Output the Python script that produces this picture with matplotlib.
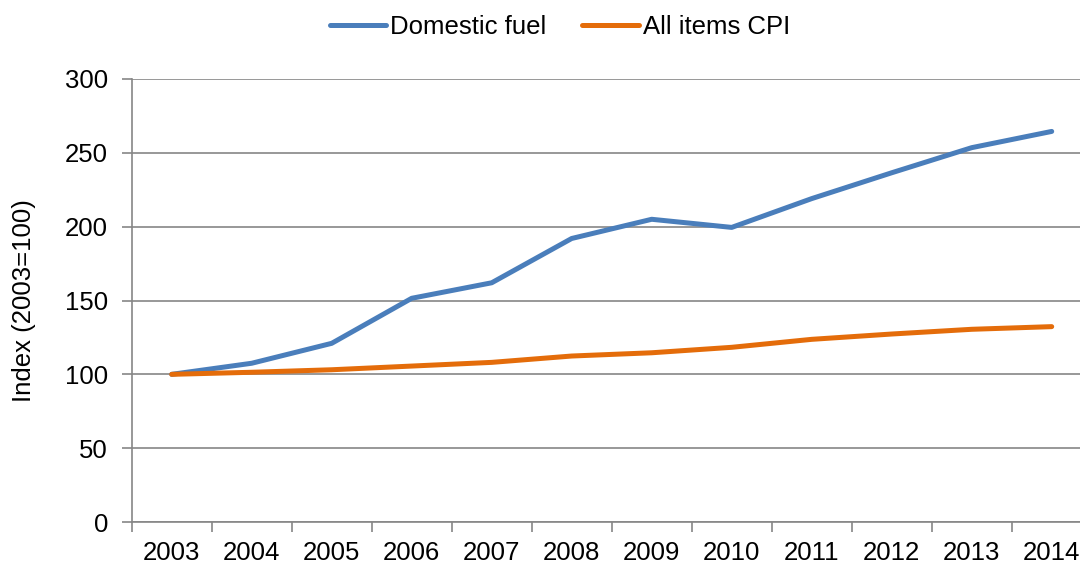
import matplotlib
matplotlib.use("Agg")
import matplotlib.pyplot as plt
import numpy as np

years = ["2003", "2004", "2005", "2006", "2007", "2008", "2009", "2010", "2011", "2012", "2013", "2014"]
domestic_fuel = [100, 107.5, 121, 151.5, 162, 192, 205, 199.5, 219, 236.5, 253.5, 264.5]
all_items_cpi = [100, 101.4, 103.1, 105.6, 108.1, 112.4, 114.6, 118.3, 123.7, 127.3, 130.5, 132.3]
y_ticks = [0, 50, 100, 150, 200, 250, 300]

plt.rcParams['font.family'] = ['Liberation Sans', 'DejaVu Sans']
FS = 18.5
grey = "#868686"

fig = plt.figure(figsize=(10.8, 5.64), dpi=100)
ax = fig.add_axes([131.7 / 1080, 42 / 564, 960 / 1080, 443 / 564])

x = np.arange(len(years))
ax.plot(x, domestic_fuel, color="#4A7EBB", lw=3.6, solid_capstyle="round", solid_joinstyle="round", label="Domestic fuel", zorder=3)
ax.plot(x, all_items_cpi, color="#E46C0A", lw=3.6, solid_capstyle="round", solid_joinstyle="round", label="All items CPI", zorder=3)

ax.set_xlim(-0.5, len(years) - 0.5)
ax.set_ylim(0, 300)
ax.set_yticks(y_ticks)
ax.set_yticklabels([str(v) for v in y_ticks], fontsize=FS)
ax.yaxis.grid(True, color=grey, lw=1.2)
ax.set_axisbelow(True)

ax.set_xticks(x)
ax.set_xticklabels(years, fontsize=FS)
ax.set_xticks(np.arange(-0.5, len(years), 1.0), minor=True)
ax.tick_params(axis="x", which="major", length=0, pad=14)
ax.tick_params(axis="x", which="minor", length=7, width=1.2, color=grey)
ax.tick_params(axis="y", length=7, width=1.2, color=grey, pad=10)

for s in ["top", "right"]:
    ax.spines[s].set_visible(False)
for s in ["left", "bottom"]:
    ax.spines[s].set_color(grey)
    ax.spines[s].set_linewidth(1.2)

ax.set_ylabel("Index (2003=100)", fontsize=FS)
ax.yaxis.set_label_coords(-0.100, 0.5)

fig.legend(loc="center", bbox_to_anchor=(560 / 1080, 1 - 27 / 564), ncol=2, frameon=False,
           fontsize=FS, handlelength=2.2, handletextpad=0.15, columnspacing=1.4, borderaxespad=0)

fig.savefig("out.png", dpi=100)
